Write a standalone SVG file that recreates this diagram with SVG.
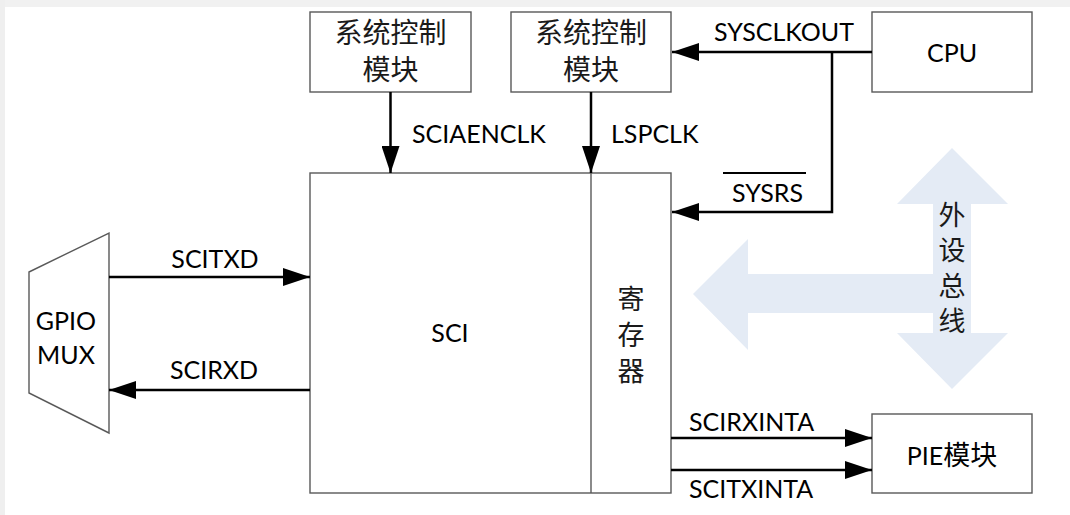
<svg xmlns="http://www.w3.org/2000/svg" width="1070" height="515" viewBox="0 0 1070 515">
<defs>
<marker id="ah" markerUnits="userSpaceOnUse" markerWidth="27" markerHeight="18" refX="27" refY="9" orient="auto">
<path d="M0,0 L27,9 L0,18 z" fill="#000"/>
</marker>
</defs>
<style>
.box{fill:#fff;stroke:#595959;stroke-width:1.4}
.wire{fill:none;stroke:#000;stroke-width:2.5}
.arr{fill:none;stroke:#000;stroke-width:2.5;marker-end:url(#ah)}
.lbl{font-family:Lato,"Liberation Sans",sans-serif;font-size:25px;fill:#000}
.cjk{font-family:"Noto Sans CJK SC",sans-serif;font-size:28px;fill:#1a1a1a;text-anchor:middle}
.vert{font-family:"Noto Sans CJK SC",sans-serif;font-size:27px;fill:#1a1a1a;writing-mode:vertical-rl;text-anchor:start}
.mid{text-anchor:middle}
</style>
<rect x="0" y="0" width="1070" height="515" fill="#fff"/>
<rect x="0" y="0" width="1070" height="7" fill="#f1f1f1"/>
<rect x="0" y="0" width="5" height="515" fill="#efefef"/>

<g id="bus">
<polygon points="952,148 1008,204 971,204 971,333 1008,333 952,389 897,333 933,333 933,313 748,313 748,350 693,294 748,239 748,274 933,274 933,204 897,204" fill="#e4ebf5"/>
<text class="vert" x="952" y="201" letter-spacing="8.5">外设总线</text>
</g>

<g id="sysctl1">
<rect class="box" x="310" y="12" width="161" height="80"/>
<text class="cjk" x="390.5" y="43">系统控制</text>
<text class="cjk" x="390.5" y="80">模块</text>
</g>

<g id="sysctl2">
<rect class="box" x="511" y="12" width="160" height="80"/>
<text class="cjk" x="591" y="43">系统控制</text>
<text class="cjk" x="591" y="80">模块</text>
</g>

<g id="cpu">
<rect class="box" x="872" y="12" width="160" height="80"/>
<text class="lbl mid" x="952" y="62">CPU</text>
</g>

<g id="sci">
<rect class="box" x="310" y="173" width="361" height="320"/>
<line x1="591" y1="173" x2="591" y2="493" stroke="#595959" stroke-width="1.4"/>
<text class="lbl mid" x="450" y="342">SCI</text>
<text class="vert" x="631" y="285" letter-spacing="9">寄存器</text>
</g>

<g id="gpiomux">
<polygon class="box" points="29,272 109,233 109,433 29,393"/>
<text class="lbl mid" x="66" y="330">GPIO</text>
<text class="lbl mid" x="66" y="364">MUX</text>
</g>

<g id="pie">
<rect class="box" x="872" y="414" width="160" height="79"/>
<text class="lbl mid" x="952" y="465">PIE<tspan font-family="Noto Sans CJK SC, sans-serif" font-size="27">模块</tspan></text>
</g>

<g id="connectors">
<line class="arr" x1="390.5" y1="92" x2="390.5" y2="173"/>
<line class="arr" x1="591" y1="92" x2="591" y2="173"/>
<line class="arr" x1="872" y1="52" x2="672" y2="52"/>
<polyline class="arr" points="832,52 832,212 672,212"/>
<line class="arr" x1="109" y1="277" x2="310" y2="277"/>
<line class="arr" x1="310" y1="390" x2="109" y2="390"/>
<line class="arr" x1="671" y1="438" x2="872" y2="438"/>
<line class="arr" x1="671" y1="470" x2="872" y2="470"/>
</g>

<g id="labels">
<text class="lbl" x="412" y="143">SCIAENCLK</text>
<text class="lbl" x="611" y="143">LSPCLK</text>
<text class="lbl" x="714" y="41">SYSCLKOUT</text>
<text class="lbl" x="732" y="202">SYSRS</text>
<line x1="723" y1="173" x2="806" y2="173" stroke="#000" stroke-width="2"/>
<text class="lbl mid" x="215" y="268">SCITXD</text>
<text class="lbl mid" x="214" y="379">SCIRXD</text>
<text class="lbl" x="689" y="431">SCIRXINTA</text>
<text class="lbl" x="689" y="498">SCITXINTA</text>
</g>
</svg>
